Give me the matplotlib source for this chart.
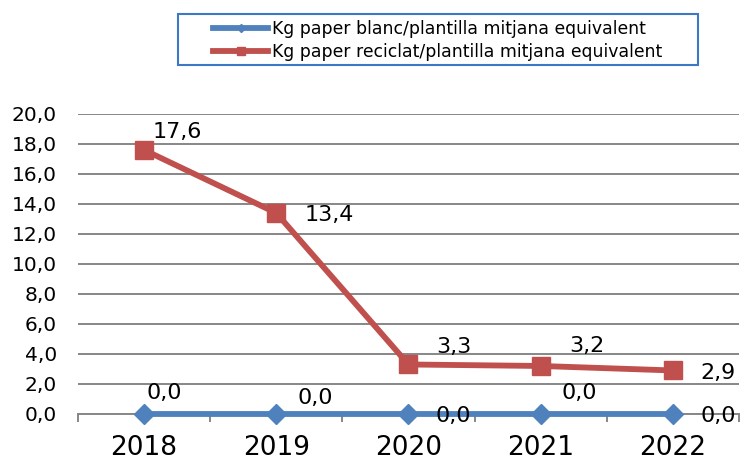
"""
Consum de paper per plantilla mitjana equivalent (2018-2022).
Line chart in the style of the original spreadsheet chart.
"""
import matplotlib
matplotlib.use("Agg")
import matplotlib.pyplot as plt
from matplotlib.patches import Rectangle

years = ["2018", "2019", "2020", "2021", "2022"]
paper_blanc = [0.0, 0.0, 0.0, 0.0, 0.0]
paper_reciclat = [17.6, 13.4, 3.3, 3.2, 2.9]
y_ticks = [0, 2, 4, 6, 8, 10, 12, 14, 16, 18, 20]
y_tick_labels = ["0,0", "2,0", "4,0", "6,0", "8,0", "10,0", "12,0", "14,0", "16,0", "18,0", "20,0"]
label_blanc = "Kg paper blanc/plantilla mitjana equivalent"
label_reciclat = "Kg paper reciclat/plantilla mitjana equivalent"

# label offsets in pixels (x right, y up)
off_reciclat = [(33, 18), (53, -2), (45, 17), (46, 20), (45, -3)]
off_blanc = [(20, 21), (39, 16), (45, -2), (39, 21), (45, -2)]

BLUE = "#4F81BD"
RED = "#C0504D"
GRID = "#878787"
W, H = 742, 461


def fmt(v):
    return f"{v:.1f}".replace(".", ",")


plt.rcParams["font.family"] = ["DejaVu Sans"]

fig = plt.figure(figsize=(W / 100, H / 100), dpi=100)
ax = fig.add_axes([0.105, 0.102, 0.891, 0.6508])

xs = list(range(len(years)))

ax.plot(xs, paper_blanc, color=BLUE, lw=4.2, marker="D", ms=10,
        mec=BLUE, mfc=BLUE, clip_on=False, zorder=4, label=label_blanc)
ax.plot(xs, paper_reciclat, color=RED, lw=4.2, marker="s", ms=13,
        mec=RED, mfc=RED, clip_on=False, zorder=4, label=label_reciclat)

for x, v, (dx, dy) in zip(xs, paper_reciclat, off_reciclat):
    ax.annotate(fmt(v), (x, v), xytext=(dx, dy), textcoords="offset pixels",
                ha="center", va="center", fontsize=16, color="black", zorder=5,
                annotation_clip=False)
for x, v, (dx, dy) in zip(xs, paper_blanc, off_blanc):
    ax.annotate(fmt(v), (x, v), xytext=(dx, dy), textcoords="offset pixels",
                ha="center", va="center", fontsize=16, color="black", zorder=5,
                annotation_clip=False)

ax.set_xlim(-0.5, len(years) - 0.5)
ax.set_ylim(0, 20)
ax.set_yticks(y_ticks)
ax.set_yticklabels(y_tick_labels, fontsize=14.5)
ax.tick_params(axis="y", length=0, pad=15)
ax.yaxis.grid(True, color=GRID, lw=1.4)
ax.set_axisbelow(True)

# category ticks between the years, labels centred under each year
ax.set_xticks([x - 0.5 for x in xs] + [len(years) - 0.5])
ax.set_xticklabels([])
ax.set_xticks(xs, minor=True)
ax.set_xticklabels(years, minor=True, fontsize=19)
ax.tick_params(axis="x", which="major", length=6, width=1.4, color=GRID, direction="out")
ax.tick_params(axis="x", which="minor", length=0, pad=15)

for side in ["top", "right", "left"]:
    ax.spines[side].set_visible(False)
ax.spines["bottom"].set_color(GRID)
ax.spines["bottom"].set_linewidth(1.4)

# legend box drawn separately so the padding matches the original
fig.patches.append(Rectangle((178 / W, 1 - 65 / H), 520 / W, 51 / H,
                             transform=fig.transFigure, fill=False,
                             edgecolor="#3C78C3", lw=1.5))
fig.legend(loc="upper left", bbox_to_anchor=(213 / W, 1 - 20 / H),
           fontsize=12.4, frameon=False, handlelength=3.2,
           handletextpad=0.25, borderpad=0, labelspacing=0.3,
           markerscale=0.45, borderaxespad=0)

fig.savefig("out.png", dpi=100)
